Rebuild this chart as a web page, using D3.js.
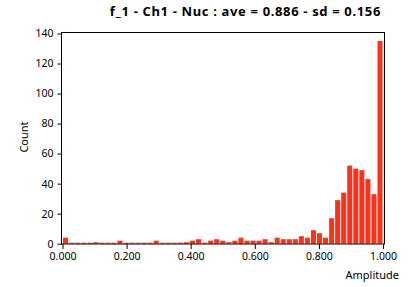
<!DOCTYPE html>
<html>
<head>
<meta charset="utf-8">
<script src="https://cdn.jsdelivr.net/npm/d3@7"></script>
<style>
  body { margin: 0; background: #fff; }
  text { font-family: "Noto Sans", sans-serif; fill: #000; }
</style>
</head>
<body>
<div id="chart"></div>
<script>
// histogram counts, 53 equal bins over [0, 1]
const counts = [4, 0, 0, 0, 0, 1, 0, 0, 0, 2, 0, 0, 0, 0, 0, 2, 0, 0, 0, 0,
    1, 2, 3, 0, 2, 3, 2, 1, 2, 4, 2, 2, 2, 3, 1, 4, 3, 3, 3, 5,
    4, 9, 7, 4, 17, 29, 34, 52, 50, 49, 43, 33, 135];
const xTicks = [0, 0.2, 0.4, 0.6, 0.8, 1.0];
const yTicks = [0, 20, 40, 60, 80, 100, 120, 140];
const title = "f_1 - Ch1 - Nuc : ave = 0.886 - sd = 0.156";

const width = 408, height = 287;
const frame = {left: 61.5, right: 384.5, top: 32.5, bottom: 244};

let svg = d3.select("#chart")
    .append("svg")
    .attr("width", width)
    .attr("height", height);

let x = d3.scaleLinear().domain([0, 1]).range([62.5, 383]);
let y = d3.scaleLinear().domain([0, 140]).range([243.7, 33.5]);

let binW = 1 / counts.length;
let bins = counts.map((c, i) => ({x0: i * binW, count: c}));

svg.append("g")
    .selectAll("rect")
    .data(bins)
    .enter()
    .append("rect")
    .attr("x", d => x(d.x0) + 0.5)
    .attr("width", x(binW) - x(0) - 1)
    .attr("y", d => Math.min(y(d.count), y(0) - 1))
    .attr("height", d => Math.max(y(0) - y(d.count), 1))
    .attr("fill", "#ff3219");

// frame
svg.append("rect")
    .attr("x", frame.left)
    .attr("y", frame.top)
    .attr("width", frame.right - frame.left)
    .attr("height", frame.bottom - frame.top)
    .attr("fill", "none")
    .attr("stroke", "#000")
    .attr("stroke-width", 1);

let yAxis = svg.append("g")
    .attr("transform", `translate(${frame.left},0)`)
    .call(d3.axisLeft(y).tickValues(yTicks).tickSize(4).tickPadding(4));

let xAxis = svg.append("g")
    .attr("transform", `translate(0,${frame.bottom})`)
    .call(d3.axisBottom(x).tickValues(xTicks).tickFormat(d3.format(".3f")).tickSize(5).tickPadding(4));

[xAxis, yAxis].forEach(a => {
    a.select(".domain").remove();
    a.selectAll("line").attr("stroke", "#000");
    a.selectAll("text").style("font-size", "10.5px").attr("fill", "#000")
        .style("font-family", "'Noto Sans', sans-serif");
});

svg.append("text")
    .attr("transform", "translate(28,137) rotate(-90)")
    .style("text-anchor", "middle")
    .style("font-size", "11px")
    .text("Count");

svg.append("text")
    .attr("x", 399)
    .attr("y", 279)
    .style("text-anchor", "end")
    .style("font-size", "11px")
    .text("Amplitude");

svg.append("text")
    .attr("x", 381)
    .attr("y", 16)
    .style("text-anchor", "end")
    .style("font-size", "13px")
    .style("font-weight", "bold")
    .style("letter-spacing", "0.65px")
    .text(title);
</script>
</body>
</html>
